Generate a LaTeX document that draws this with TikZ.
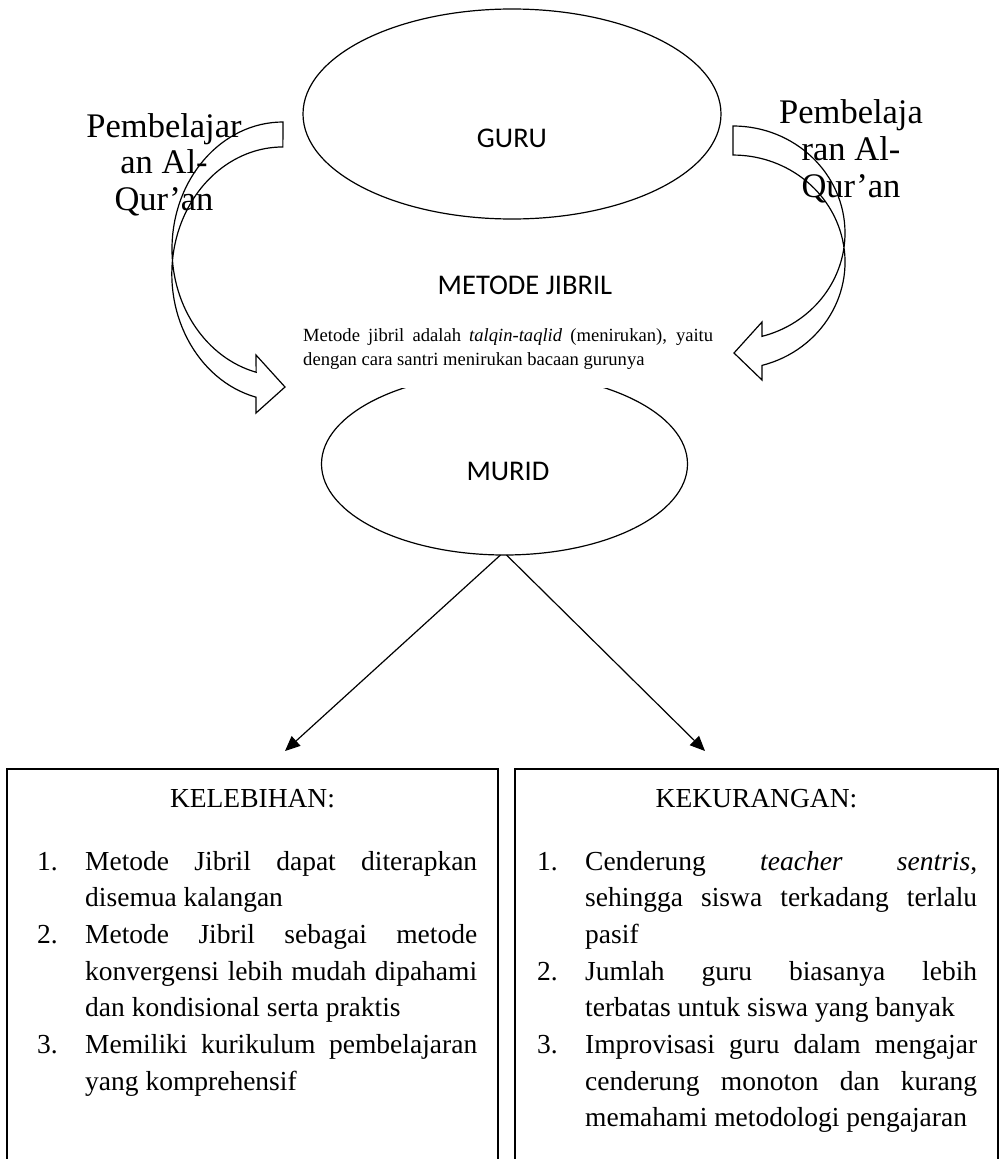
\documentclass[tikz,border=0pt]{standalone}
\usepackage{fontspec}
\setmainfont{Liberation Serif}
\newfontfamily\calibrifont{Carlito}
\usetikzlibrary{shapes.geometric,arrows.meta}
\newcommand\centerlines[1]{\vtop{\halign{\hfil##\hfil\cr#1\crcr}}}
\newcommand\myitem[2]{\noindent\hangindent=48pt\hangafter=1\makebox[48pt][l]{#1}#2\par}
\newcommand\listfont{\fontsize{27.5}{36.7}\selectfont\parindent=0pt\parskip=0pt\tolerance=10000\hbadness=10000\hyphenpenalty=10000}
\begin{document}
\begin{tikzpicture}[x=1pt,y=1pt,
  oval/.style={ellipse,draw,line width=1.2pt,inner sep=0pt,outer sep=0pt},
  sanslbl/.style={font=\calibrifont\fontsize{28.5}{34}\selectfont,inner sep=0pt,anchor=base},
  listbox/.style={draw,line width=1.3pt,inner sep=0pt,outer sep=0pt,anchor=north west,minimum height=440pt},
  boxhead/.style={font=\fontsize{27.5}{33}\selectfont,inner sep=0pt,anchor=base},
  listtext/.style={inner sep=0pt,anchor=base west},
  flowarrow/.style={-{Triangle[length=15pt,width=13pt]},line width=1.2pt},
  blockarrow/.style={line width=1.2pt,line join=miter},
  sidelbl/.style={inner sep=0pt,anchor=base}]
\useasboundingbox (0,0) rectangle (1004,-1159);
\clip (0,0) rectangle (1004,-1159);

% GURU
\node[oval,minimum width=418pt,minimum height=210pt] (guru) at (512,-114) {};
\node[sanslbl] (gurulbl) at (512,-147) {GURU};

% MURID (top part hidden)
\begin{scope}
\clip (290,-388) rectangle (720,-600);
\node[oval,minimum width=366pt,minimum height=182pt] (murid) at (504.5,-464) {};
\end{scope}
\node[sanslbl] (muridlbl) at (508,-480) {MURID};

% middle texts
\node[sanslbl] (metode) at (525,-294) {METODE JIBRIL};
\node[listtext] (desc) at (303,-341) {\vtop{\hsize=410pt\fontsize{18.6}{24}\selectfont\parindent=0pt\tolerance=10000\hbadness=10000\noindent
Metode jibril adalah \textit{talqin-taqlid} (menirukan), yaitu\linebreak dengan cara santri menirukan bacaan gurunya\par}};

% side labels
\node[sidelbl] (leftlbl) at (164,-137) {\fontsize{34.5}{36.5}\selectfont\centerlines{Pembelajar\cr an Al-\cr Qur’an}};
\node[sidelbl] (rightlbl) at (851,-123) {\fontsize{34.5}{37}\selectfont\centerlines{Pembelaja\cr ran Al-\cr Qur’an}};

% curved block arrows
\draw[blockarrow] (283,-122) arc[start angle=90,end angle=256,x radius=111pt,y radius=127pt]
  -- (256,-355) -- (285,-387) -- (256,-413) -- (256,-397.2)
  arc[start angle=256,end angle=90,x radius=111pt,y radius=127pt] -- cycle;
\draw[blockarrow] (733,-126) arc[start angle=90,end angle=-75,x radius=112pt,y radius=107pt]
  -- (762,-322) -- (734,-353) -- (762,-380) -- (762,-365.4)
  arc[start angle=-75,end angle=90,x radius=112pt,y radius=107pt] -- cycle;

% arrows to boxes
\coordinate (kelend) at (285,-751);
\coordinate (kekend) at (705,-751);
\draw[flowarrow] ([xshift=-4pt]murid.south) -- (kelend);
\draw[flowarrow] ([xshift=2pt]murid.south) -- (kekend);

% boxes
\node[listbox,minimum width=491pt] (kelbox) at (7,-769) {};
\node[listbox,minimum width=483pt] (kekbox) at (515,-769) {};
\node[boxhead] (kelhead) at (252.5,-807) {KELEBIHAN:};
\node[boxhead] (kekhead) at (756.5,-807) {KEKURANGAN:};

\node[listtext] (kellist) at (37,-870) {\vtop{\hsize=440pt\listfont
\myitem{1.}{Metode Jibril dapat diterapkan\linebreak disemua kalangan}
\myitem{2.}{Metode Jibril sebagai metode\linebreak konvergensi lebih mudah dipahami\linebreak dan kondisional serta praktis}
\myitem{3.}{Memiliki kurikulum pembelajaran\linebreak yang komprehensif}}};

\node[listtext] (keklist) at (537,-870) {\vtop{\hsize=440pt\listfont
\myitem{1.}{Cenderung \textit{teacher sentris},\linebreak sehingga siswa terkadang terlalu\linebreak pasif}
\myitem{2.}{Jumlah guru biasanya lebih\linebreak terbatas untuk siswa yang banyak}
\myitem{3.}{Improvisasi guru dalam mengajar\linebreak cenderung monoton dan kurang\linebreak memahami metodologi pengajaran}}};
\end{tikzpicture}
\end{document}
